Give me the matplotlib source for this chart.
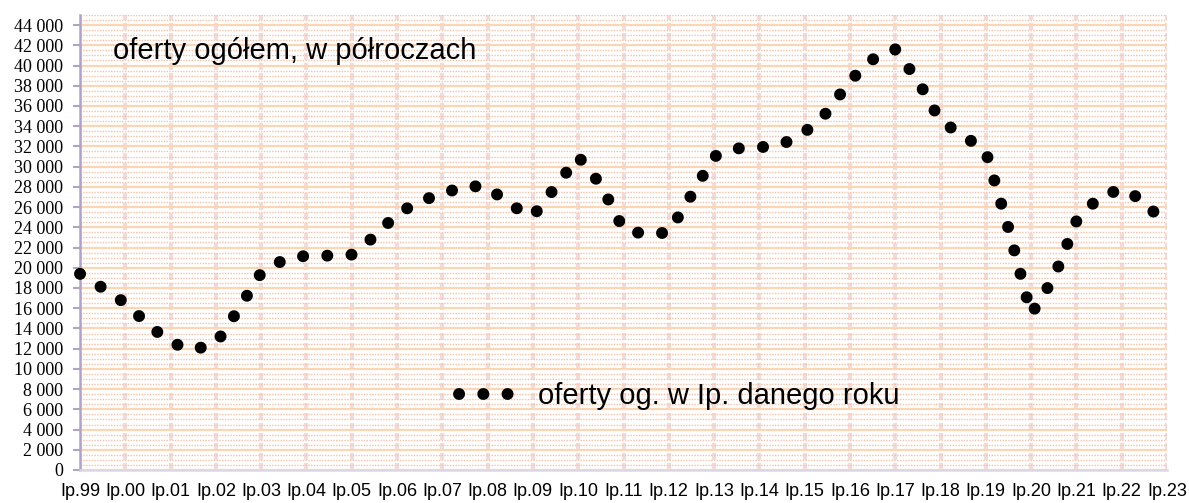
import matplotlib
matplotlib.use('Agg')
import matplotlib.pyplot as plt
from matplotlib.ticker import MultipleLocator, FuncFormatter

# oferty ogółem, wartości w półroczach (Ip.99 ... Ip.23)
years = ['99', '00', '01', '02', '03', '04', '05', '06', '07', '08', '09', '10',
         '11', '12', '13', '14', '15', '16', '17', '18', '19', '20', '21', '22', '23']
tick_labels = ['Ip.' + y for y in years]

offers = [19400, 18000, 16500, 14400, 12600, 11900, 12500, 15900, 19500, 20800,
          21200, 21200, 21300, 23100, 25300, 26600, 27300, 28100, 28000, 26200,
          25100, 28000, 31000, 28200, 23800, 23300, 23500, 27200, 31000, 31800,
          31900, 32200, 33400, 35400, 38500, 40600, 41600, 38500, 34500, 33100,
          31500, 23900, 15400, 19000, 24600, 27000, 27800, 26600, 24000]

fig = plt.figure(figsize=(11.89, 5.03), dpi=100)
ax = fig.add_axes([80 / 1189, 33 / 503, 1087 / 1189, 455 / 503])

x = list(range(len(offers)))
# kropki = gruba linia kropkowana z zaokrąglonymi końcami
ax.plot(x, offers, color='black', lw=8.6, linestyle=(0, (0.01, 2.02)),
        dash_capstyle='round', label='oferty og. w Ip. danego roku', zorder=5,
        clip_on=False)

ax.set_xlim(0, len(offers) - 1)
ax.set_ylim(0, 45000)

ax.set_xticks(range(0, len(offers), 2))
ax.set_xticklabels(tick_labels, fontfamily='Liberation Sans', fontsize=13)
ax.yaxis.set_major_locator(MultipleLocator(2000))
ax.yaxis.set_minor_locator(MultipleLocator(500))
ax.yaxis.set_major_formatter(FuncFormatter(lambda v, p: f'{int(v):,}'.replace(',', ' ')))
for t in ax.get_yticklabels():
    t.set_fontfamily('Liberation Serif')
    t.set_fontsize(13)

ax.tick_params(axis='x', length=0, pad=9, colors='black')
ax.tick_params(axis='y', which='major', length=5, width=1.5, color='#B3A2C7', pad=7)
ax.tick_params(axis='y', which='minor', length=0)

# siatka
ax.set_axisbelow(True)
ax.grid(axis='x', which='major', color='#F2DCDB', lw=3, linestyle=(0, (1.7, 0.7)))
ax.grid(axis='y', which='major', color='#FCD5B4', lw=1.6)
ax.grid(axis='y', which='minor', color='#F4C2A8', lw=1, linestyle=(0, (1, 1)))

for s in ['top', 'right']:
    ax.spines[s].set_visible(False)
ax.spines['left'].set_color('#B3A2C7')
ax.spines['left'].set_linewidth(1.8)
ax.spines['bottom'].set_color('#DCD6EA')
ax.spines['bottom'].set_linewidth(1.8)

ax.text(0.030, 0.903, 'oferty ogółem, w półroczach', transform=ax.transAxes,
        fontfamily='Liberation Sans', fontsize=21, va='baseline', ha='left')

leg = ax.legend(loc='center left', bbox_to_anchor=(0.349, 0.163), frameon=False,
                prop={'family': 'Liberation Sans', 'size': 21},
                handlelength=2.0, handletextpad=0.7, borderpad=0, borderaxespad=0)

plt.savefig('out.png', dpi=100)
